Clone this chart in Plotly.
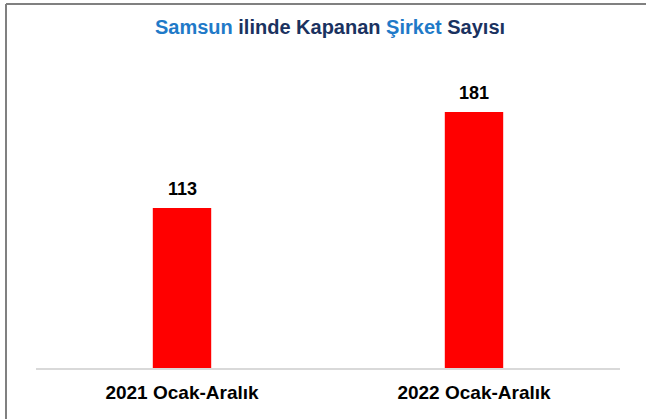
import plotly.graph_objects as go

categories = ["2021 Ocak-Aralık", "2022 Ocak-Aralık"]
values = [113, 181]

W, H = 646, 419
L, R, T, B = 36, 26, 50, 51
pw, ph = W - L - R, H - T - B

FONT = "Liberation Sans Narrow, Liberation Sans, Arial"

def px_x(x):
    return (x - L) / pw

def px_y(y):
    return 1 - (y - T) / ph

fig = go.Figure(go.Bar(
    x=categories, y=values, width=0.2,
    marker=dict(color="#ff0000", line=dict(width=0)),
))

for c, v in zip(categories, values):
    fig.add_annotation(
        x=c, y=v, xref="x", yref="y", text=f"<b>{v}</b>",
        showarrow=False, yanchor="bottom", yshift=7,
        font=dict(family=FONT, size=18, color="#000000"),
    )

fig.update_layout(
    width=W, height=H,
    margin=dict(l=L, r=R, t=T, b=B),
    paper_bgcolor="white", plot_bgcolor="white",
    showlegend=False,
    title=dict(
        text="<b><span style='color:#1f7ac8'>Samsun</span> ilinde Kapanan "
             "<span style='color:#1f7ac8'>Şirket</span> Sayısı</b>",
        font=dict(family=FONT, size=20, color="#1a3260"),
        x=px_x(330), xref="paper", xanchor="center",
        y=1 - 27 / H, yanchor="middle",
    ),
    xaxis=dict(
        showline=True, linecolor="#d9d9d9", linewidth=1.5,
        ticks="", showgrid=False, ticklabelstandoff=6,
        tickfont=dict(family=FONT, size=19, color="#000000"),
        tickprefix="<b>", ticksuffix="</b>",
    ),
    yaxis=dict(visible=False, range=[0, ph / 1.415], showgrid=False, zeroline=False),
    shapes=[
        dict(type="line", xref="paper", yref="paper",
             x0=px_x(6), x1=px_x(6), y0=px_y(419), y1=px_y(4),
             line=dict(color="#808080", width=2)),
        dict(type="line", xref="paper", yref="paper",
             x0=px_x(6), x1=px_x(646), y0=px_y(4), y1=px_y(4),
             line=dict(color="#808080", width=2)),
    ],
)

fig.write_html("out.html", config={"displayModeBar": False},
               post_script="document.body.style.margin='0px';document.body.style.overflow='hidden';")
